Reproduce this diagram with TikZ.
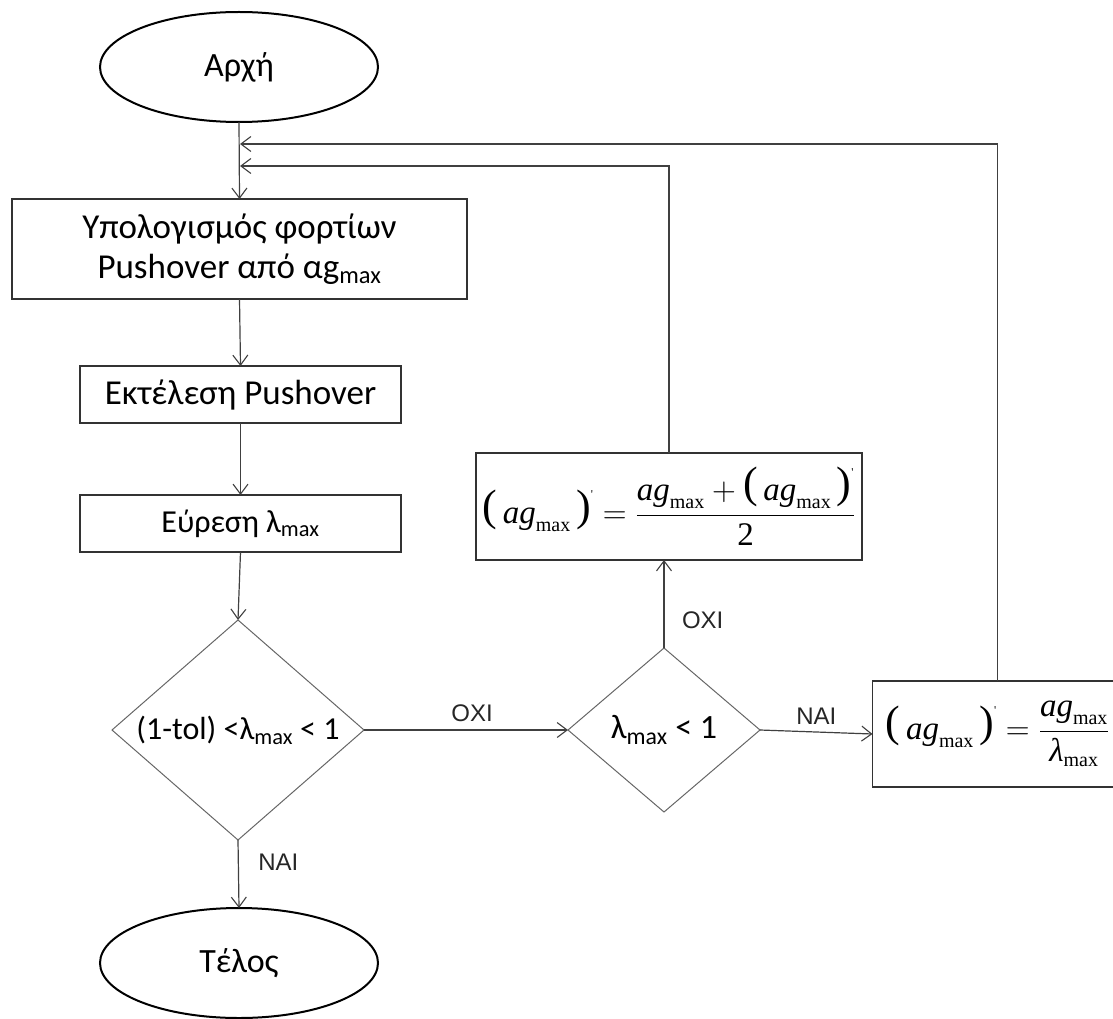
\RequirePackage{fix-cm}
\documentclass[tikz,border=0pt]{standalone}
\usepackage{fontspec}
\setmainfont{Carlito}
\newfontfamily\arl{Liberation Sans}
\newfontfamily\tnr{Liberation Serif}
\usetikzlibrary{shapes.geometric,arrows.meta}
\newcommand{\agm}{\mbox{\tnr\itshape ag}_{\mbox{\tnr\fontsize{20}{20}\selectfont max}}}
\newcommand{\bigpl}{\mathopen{\raisebox{3pt}{\tnr\fontsize{44}{44}\selectfont(}}}
\newcommand{\bigpr}{\mathclose{\raisebox{3pt}{\tnr\fontsize{44}{44}\selectfont)}}}
\newcommand{\agp}{\bigpl\,\agm\,\bigpr^{\mbox{\tnr\fontsize{12}{12}\selectfont '}}}
\newcommand{\lmx}{\mbox{\tnr\itshape λ}_{\mbox{\tnr\fontsize{20}{20}\selectfont max}}}
\begin{document}
\begin{tikzpicture}[x=1pt,y=-1pt,
  every node/.style={inner sep=0pt, outer sep=0pt},
  term/.style={ellipse, draw=black, line width=2pt, minimum width=278pt, minimum height=110pt, font=\fontsize{34}{40}\selectfont},
  pbox/.style={rectangle, draw=black!80, line width=1.3pt},
  dia/.style={diamond, draw=black!60, line width=1pt},
  conn/.style={draw=black!75, line width=1.2pt},
  arr/.style={conn, -{Straight Barb[length=10pt,width=15pt,line width=1.1pt]}},
  lbl/.style={font=\arl\fontsize{24}{28}\selectfont, text=black!85},
  ftxt/.style={font=\tnr\fontsize{33}{38}\selectfont},
]
\clip (0,0) rectangle (1113,1019);
\node[term] (start) at (239,67) {Αρχή};
\node[pbox, minimum width=455pt, minimum height=100pt, align=center, font=\fontsize{35}{40}\selectfont] (b1) at (239.5,249) {Υπολογισμός φορτίων\\Pushover από αg\textsubscript{max}};
\node[pbox, minimum width=321pt, minimum height=57pt, font=\fontsize{35}{40}\selectfont] (b2) at (240.5,394.5) {Εκτέλεση Pushover};
\node[pbox, minimum width=321pt, minimum height=57pt, font=\fontsize{32}{40}\selectfont] (b3) at (240.5,523.5) {Εύρεση λ\textsubscript{max}};
\node[dia, minimum width=252pt, minimum height=220pt] (d1) at (238,730) {};
\node[font=\fontsize{32}{38}\selectfont] (t1) at (d1) {(1-tol) <λ\textsubscript{max} < 1};
\node[dia, minimum width=192pt, minimum height=164pt] (d2) at (664,730) {};
\node[font=\fontsize{34}{38}\selectfont] (t2) at (d2) {λ\textsubscript{max} < 1};
\node[pbox, minimum width=386pt, minimum height=107pt, ftxt] (f1) at (669,506.5) {$\displaystyle \agp = \frac{\agm + \agp}{\mbox{\tnr 2}}$};
\node[pbox, minimum width=250pt, minimum height=106pt, ftxt] (f2) at (997.5,734) {$\displaystyle \agp = \frac{\agm}{\lmx}$};
\node[term] (end) at (239,963) {Τέλος};
\coordinate (m1) at (240,144);
\coordinate (m2) at (240,166);
\draw[arr] (start.south) -- (b1.north);
\draw[arr] (b1.south) -- (b2.north);
\draw[arr] (b2.south) -- (b3.north);
\draw[arr] (b3.south) -- (d1.north);
\draw[arr] (d1.south) -- (end.north) node[lbl, pos=0.32, right=20pt] {ΝΑΙ};
\draw[arr] (d1.east) -- (d2.west) node[lbl, pos=0.53, above=8pt] {ΟΧΙ};
\draw[arr] (d2.east) -- (f2.west) node[lbl, midway, above=8pt] {ΝΑΙ};
\draw[arr] (d2.north) -- (d2.north |- f1.south) node[lbl, pos=0.32, right=18pt] {ΟΧΙ};
\draw[arr] (f1.north) |- (m2);
\draw[arr] (f2.north) |- (m1);
\end{tikzpicture}
\end{document}
